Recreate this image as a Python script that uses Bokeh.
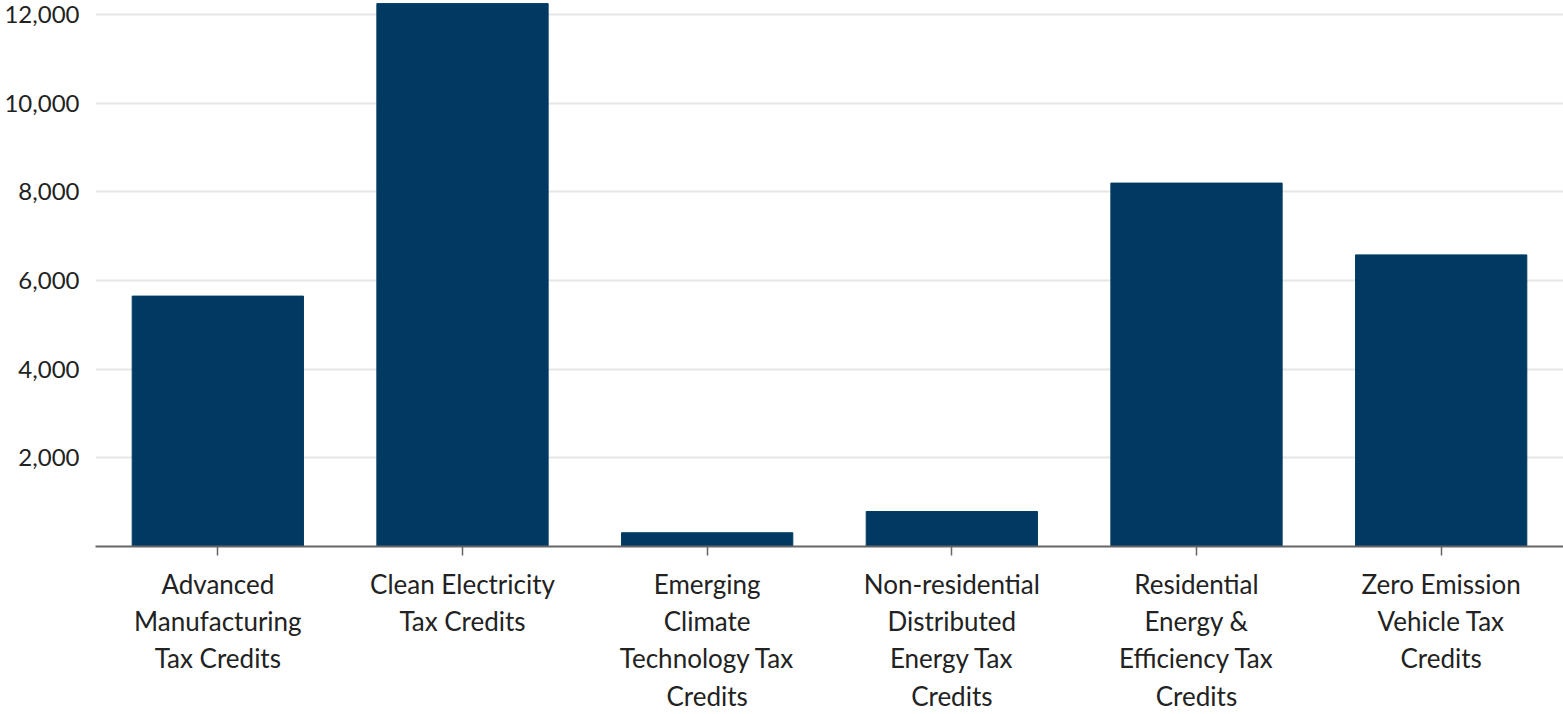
from bokeh.plotting import figure
from bokeh.models import FixedTicker, NumeralTickFormatter, Range1d
from bokeh.embed import file_html
from bokeh.resources import INLINE

categories = [
    "Advanced\nManufacturing\nTax Credits",
    "Clean Electricity\nTax Credits",
    "Emerging\nClimate\nTechnology Tax\nCredits",
    "Non-residential\nDistributed\nEnergy Tax\nCredits",
    "Residential\nEnergy &\nEfficiency Tax\nCredits",
    "Zero Emission\nVehicle Tax\nCredits",
]
values = [5650, 12250, 310, 790, 8200, 6580]
y_ticks = [2000, 4000, 6000, 8000, 10000, 12000]

FONT = "Lato"

p = figure(
    x_range=categories,
    y_range=Range1d(0, 12320),
    width=1563,
    height=714,
    output_backend="svg",
    toolbar_location=None,
    min_border_left=95,
    min_border_right=0,
    min_border_top=0,
    min_border_bottom=167,
)
p.vbar(x=categories, top=values, width=0.7, color="#003A62")

p.outline_line_color = None
p.background_fill_color = "white"
p.border_fill_color = "white"

p.xgrid.grid_line_color = None
p.ygrid.grid_line_color = "#e6e6e6"
p.ygrid.grid_line_width = 2

p.yaxis.ticker = FixedTicker(ticks=y_ticks)
p.yaxis.formatter = NumeralTickFormatter(format="0,0")
p.yaxis.axis_line_color = None
p.yaxis.major_tick_line_color = None
p.yaxis.minor_tick_line_color = None
p.yaxis.major_label_text_font = FONT
p.yaxis.major_label_text_font_size = "24px"
p.yaxis.major_label_text_color = "#222222"
p.yaxis.major_label_standoff = 10

p.xaxis.axis_line_color = "#666666"
p.xaxis.axis_line_width = 2
p.xaxis.major_tick_line_color = "#666666"
p.xaxis.major_tick_line_width = 1.5
p.xaxis.major_tick_in = 0
p.xaxis.major_tick_out = 9
p.xaxis.major_label_text_font = FONT
p.xaxis.major_label_text_font_size = "26px"
p.xaxis.major_label_text_color = "#222222"
p.xaxis.major_label_text_line_height = 1.17
p.xaxis.major_label_text_align = "center"
p.xaxis.major_label_standoff = 12

open("out.html", "w").write(file_html(p, INLINE))
